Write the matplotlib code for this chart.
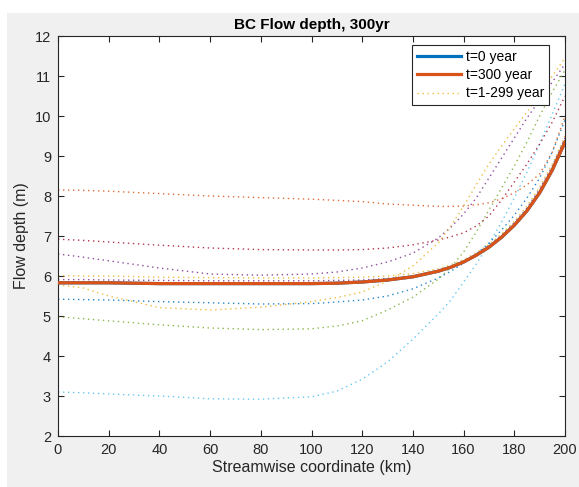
import numpy as np
import matplotlib
matplotlib.use("Agg")
import matplotlib.pyplot as plt
from matplotlib.patches import Rectangle

plt.rcParams['font.family'] = ['Liberation Sans', 'DejaVu Sans']

x_km = [0, 10, 20, 40, 60, 80, 100, 110, 120, 130, 140, 150, 155, 160, 165, 170, 175, 180, 185, 190, 195, 200]

# t=0 and t=300 profiles (they sit on top of each other)
h_t0 = [5.83, 5.83, 5.83, 5.81, 5.81, 5.81, 5.81, 5.82, 5.85, 5.90, 5.98, 6.12, 6.22, 6.35, 6.52, 6.72, 6.97, 7.27, 7.63, 8.08, 8.65, 9.35]
h_t300 = [5.83, 5.83, 5.83, 5.81, 5.81, 5.81, 5.81, 5.82, 5.85, 5.90, 5.98, 6.12, 6.22, 6.35, 6.52, 6.72, 6.97, 7.27, 7.63, 8.08, 8.65, 9.35]

# intermediate years (dotted), in plotting order
h_mid1 = [6.01, 6.00, 6.00, 5.97, 5.96, 5.95, 5.95, 5.96, 5.97, 6.00, 6.06, 6.18, 6.28, 6.41, 6.58, 6.79, 7.05, 7.37, 7.75, 8.22, 8.80, 9.50]
h_mid2 = [6.55, 6.47, 6.38, 6.20, 6.05, 6.02, 6.05, 6.10, 6.20, 6.35, 6.57, 6.95, 7.22, 7.55, 7.95, 8.45, 8.95, 9.45, 9.95, 10.40, 10.85, 11.30]
h_mid3 = [4.98, 4.93, 4.88, 4.78, 4.70, 4.66, 4.68, 4.75, 4.88, 5.15, 5.47, 5.92, 6.22, 6.60, 7.10, 7.65, 8.20, 8.75, 9.35, 10.00, 10.60, 11.15]
h_mid4 = [3.10, 3.08, 3.05, 3.00, 2.93, 2.92, 2.98, 3.12, 3.42, 3.85, 4.42, 5.05, 5.40, 5.85, 6.30, 6.80, 7.35, 7.95, 8.60, 9.30, 10.05, 10.80]
h_mid5 = [6.92, 6.89, 6.85, 6.77, 6.70, 6.66, 6.65, 6.65, 6.66, 6.70, 6.78, 6.90, 6.98, 7.08, 7.25, 7.50, 7.90, 8.35, 8.80, 9.30, 9.85, 10.50]
h_mid6 = [5.42, 5.41, 5.40, 5.36, 5.33, 5.30, 5.31, 5.35, 5.40, 5.50, 5.68, 5.95, 6.12, 6.32, 6.55, 6.82, 7.15, 7.52, 7.95, 8.45, 9.10, 9.90]
h_mid7 = [8.15, 8.14, 8.12, 8.06, 8.00, 7.96, 7.92, 7.89, 7.86, 7.80, 7.77, 7.74, 7.74, 7.75, 7.78, 7.83, 7.93, 8.08, 8.28, 8.55, 9.10, 10.00]
h_mid8 = [5.78, 5.70, 5.50, 5.21, 5.15, 5.22, 5.36, 5.46, 5.60, 5.87, 6.25, 6.83, 7.25, 7.75, 8.28, 8.80, 9.25, 9.68, 10.10, 10.55, 11.00, 11.45]
h_mid9 = [5.91, 5.91, 5.90, 5.89, 5.88, 5.88, 5.88, 5.89, 5.90, 5.94, 6.00, 6.13, 6.24, 6.37, 6.55, 6.76, 7.02, 7.33, 7.70, 8.17, 8.75, 9.45]
mid_profiles = [h_mid1, h_mid2, h_mid3, h_mid4, h_mid5, h_mid6, h_mid7, h_mid8, h_mid9]

# matlab default colour order
mat_colors = ['#0072BD', '#D95319', '#EDB120', '#7E2F8E', '#77AC30', '#4DBEEE', '#A2142F']

fig = plt.figure(figsize=(5.79, 4.87), dpi=100)
fig.patch.set_facecolor('white')
fig.patches.append(Rectangle((7 / 579, 0), 1, (487 - 13) / 487, transform=fig.transFigure,
                             facecolor='#F0F0F0', edgecolor='none', zorder=-10))

ax = fig.add_axes([58 / 579, (487 - 436) / 487, 507 / 579, 400 / 487])
ax.set_facecolor('white')

l0, = ax.plot(x_km, h_t0, color=mat_colors[0], lw=2.3, label='t=0 year', zorder=3)
l300, = ax.plot(x_km, h_t300, color=mat_colors[1], lw=2.3, label='t=300 year', zorder=4)

mid_lines = []
for i, h in enumerate(mid_profiles):
    c = mat_colors[(i + 2) % 7]
    ln, = ax.plot(x_km, h, color=c, lw=1.0, dashes=(1, 2.6), alpha=0.85, zorder=2)
    mid_lines.append(ln)

ax.set_xlim(0, 200)
ax.set_ylim(2, 12)
ax.set_xticks(np.arange(0, 201, 20))
ax.set_yticks(np.arange(2, 13, 1))

ax.tick_params(direction='in', top=True, right=True, length=4, width=0.8,
               labelsize=10.5, colors='#262626', pad=5)
for s in ax.spines.values():
    s.set_color('#262626')
    s.set_linewidth(0.8)

ax.set_title('BC Flow depth, 300yr', fontsize=11, fontweight='bold', color='black', pad=5)
ax.set_xlabel('Streamwise coordinate (km)', fontsize=11.5, color='#262626', labelpad=2)
ax.set_ylabel('Flow depth (m)', fontsize=11.5, color='#262626', labelpad=4)

leg = ax.legend([l0, l300, mid_lines[0]], ['t=0 year', 't=300 year', 't=1-299 year'],
                loc='upper right', bbox_to_anchor=(0.968, 0.977), fontsize=10,
                fancybox=False, framealpha=1, edgecolor='#262626', handlelength=3.2,
                handletextpad=0.3, borderpad=0.35, labelspacing=0.3, borderaxespad=0)
leg.get_frame().set_linewidth(0.8)
leg.set_zorder(10)

fig.savefig('out.png', dpi=100)
